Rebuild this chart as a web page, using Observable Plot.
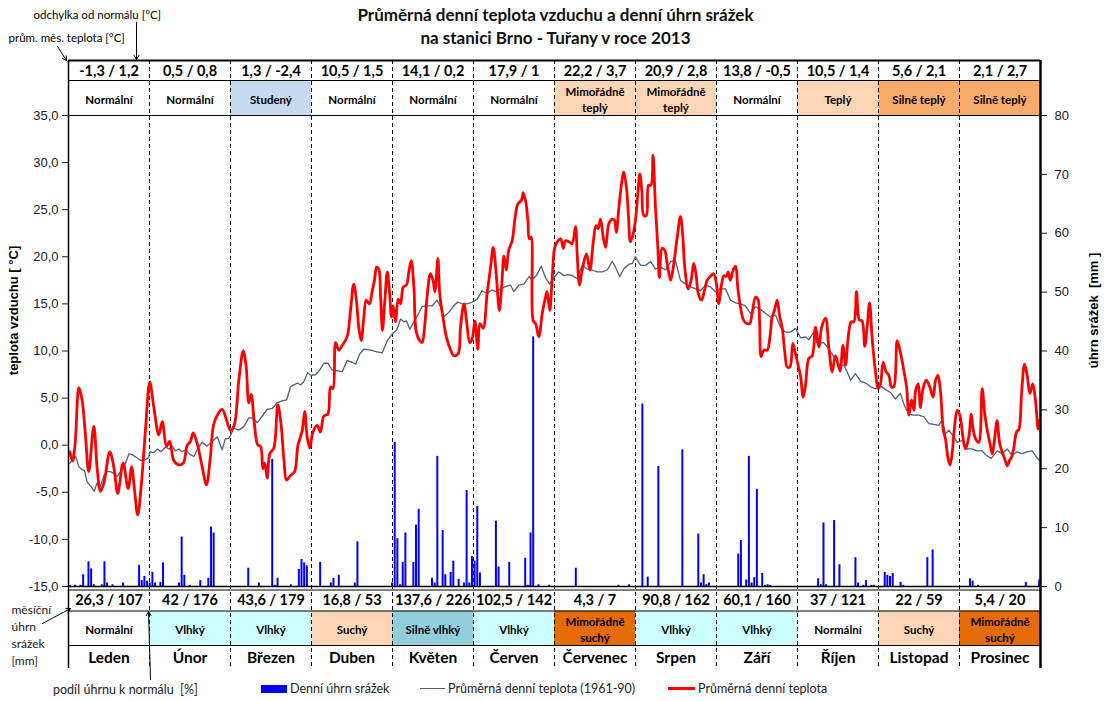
<!DOCTYPE html>
<html>
<head>
<meta charset="utf-8">
<script src="https://cdn.jsdelivr.net/npm/d3@7"></script>
<script src="https://cdn.jsdelivr.net/npm/@observablehq/plot@0.6"></script>
<style>
  body { margin: 0; background: #fff; }
  #wrap { position: relative; width: 1111px; height: 701px; overflow: hidden; }
  #title { position: absolute; left: 0; top: 3px; width: 1111px; text-align: center;
           font-family: Lato, "Open Sans", sans-serif; font-weight: bold; font-size: 17px;
           line-height: 23px; color: #111; pointer-events: none; }
  #legend { position: relative; height: 23px; width: 1111px; font-family: Lato, "Open Sans", sans-serif;
            font-size: 12.5px; color: #222; }
  #legend span, #legend i { position: absolute; }
  #chart svg { display: block; }
</style>
</head>
<body>
<div id="wrap">
  <div id="chart"></div>
  <div id="legend">
    <span style="left:53px;top:4px;">podíl úhrnu k normálu&nbsp; [%]</span>
    <i style="left:261px;top:7px;width:26px;height:8px;background:#0000ff;"></i>
    <span style="left:290px;top:3px;">Denní úhrn srážek</span>
    <i style="left:420px;top:10px;width:25px;height:1.4px;background:#4d5f7a;"></i>
    <span style="left:448px;top:3px;">Průměrná denní teplota (1961-90)</span>
    <i style="left:668px;top:9px;width:27px;height:3px;background:#ff0000;"></i>
    <span style="left:698px;top:3px;">Průměrná denní teplota</span>
  </div>
  <div id="title">Průměrná denní teplota vzduchu a denní úhrn srážek<br>na stanici Brno - Tuřany v roce 2013</div>
</div>
<script>
// ---------------- DATA ----------------
const months = ["Leden","Únor","Březen","Duben","Květen","Červen","Červenec","Srpen","Září","Říjen","Listopad","Prosinec"];
const monthTemp = [-1.3, 0.5, 1.3, 10.5, 14.1, 17.9, 22.2, 20.9, 13.8, 10.5, 5.6, 2.1];
const tempDeviation = [1.2, 0.8, -2.4, 1.5, 0.2, 1, 3.7, 2.8, -0.5, 1.4, 2.1, 2.7];
const tempClass = ["Normální","Normální","Studený","Normální","Normální","Normální","Mimořádně teplý","Mimořádně teplý","Normální","Teplý","Silně teplý","Silně teplý"];
const monthPrecip = [26.3, 42, 43.6, 16.8, 137.6, 102.5, 4.3, 90.8, 60.1, 37, 22, 5.4];
const precipPercent = [107, 176, 179, 53, 226, 142, 7, 162, 160, 121, 59, 20];
const precipClass = ["Normální","Vlhký","Vlhký","Suchý","Silně vlhký","Vlhký","Mimořádně suchý","Vlhký","Vlhký","Normální","Suchý","Mimořádně suchý"];

const leftTicks = [-15, -10, -5, 0, 5, 10, 15, 20, 25, 30, 35];
const rightTicks = [0, 10, 20, 30, 40, 50, 60, 70, 80];

// daily mean temperature 2013 (day of year, °C)
const tempDays = [1,2,3,4.4,5.6,6.9,8.1,10,11.3,12.5,13.8,16,17.5,19,21,22.9,24.2,25.3,26.5,27.9,29.4,31,32.5,34.4,35.7,37.3,38.5,40,41.9,43.6,45.1,46.3,47.3,48.8,50.7,52.3,53.8,55.3,58.2,59.7,61.3,62.6,64.5,66.1,67.2,68.2,69.1,70.3,71.6,72.6,73.5,74.2,75.1,76.1,77.6,79.1,80.4,81.4,82.4,83.9,85.4,86.6,87.6,88.3,89.2,90.1,91.1,92.2,93.9,95.1,96.4,97.9,98.9,99.8,100.8,102,103.3,105.1,106.4,107.6,108.6,109.5,110.4,111.4,112.3,113.5,114.5,115.4,116.2,117,117.7,118.4,119.3,120.2,121,121.8,122.4,123.3,124.3,125.2,126.2,127.4,128.3,129.2,130.2,131.1,132.4,133.3,134.2,135.2,136.4,137.4,138.1,139.2,139.9,141.1,142.4,144,145.2,146.8,147.7,149,150,151.2,152.1,153.1,154.2,155,156.2,157.7,159,160,161.1,162.3,163.3,164,164.9,165.8,167.1,168.1,169.2,170.6,171.2,172.1,173,173.5,174.2,175,175.9,177.1,178.4,179.6,180.2,181.2,182.1,183.1,184.3,185.3,186.3,187.1,188.4,189.6,190.9,191.5,192.4,193.4,195,196.3,197.5,198.6,199.4,200.3,201.3,202.2,203.4,204.7,205.5,206.2,207.2,208.2,209,210,210.8,211.5,212.5,213.4,214.3,215,215.8,216.5,217.5,218.3,219.2,220,220.9,221.8,222.4,223.4,224.4,225.3,226.6,227.6,229.1,230.3,231.2,231.9,233.2,234.3,235.3,236.2,237,238.2,239.3,240.3,241.8,242.8,243.8,244.7,245.7,246.6,247.5,248.2,249,250.1,251,251.8,252.8,254.1,255.3,256.3,257.2,258.5,259.4,260,260.6,261.6,262.9,263.9,264.7,265.6,266.6,267.6,268.5,269.4,270.4,271.4,272.5,273.5,274.4,275.4,276.4,277.3,278.5,279.8,281,282.3,283.3,284.8,286,287.3,288.5,290.2,291.3,292.3,293.3,294.4,295.4,296.4,297.5,298.5,299.5,300.4,301.3,302.3,303.5,304.5,305.4,306.4,307.5,308.6,309.5,310.4,311.7,313,314.2,315.2,316.1,317.1,318,318.6,319.6,320.4,321.4,322.6,323.9,325.2,326.1,327,328,329,329.8,330.7,331.5,332.3,333.2,334.2,335.2,336.3,337.3,338.6,339.5,340.2,341.1,342.3,343.6,344.5,345.5,346.5,347.4,348.2,349.2,350.1,351.1,352,353,353.9,354.6,355.5,356.5,357.4,358.4,359.5,360.5,361.5,362.6,363.6,364.6,365];
const tempValues = [-0.7,-1.7,0.2,6.1,4.8,0.9,-2.8,2.0,-2.6,-4.9,-4.0,-0.7,-2.3,-5.1,-1.9,-4.6,-2.3,-4.8,-7.4,-4.0,1.6,6.7,4.1,1.1,2.5,-0.1,0.4,-1.6,-2.1,-1.9,0.0,0.4,1.3,0.2,-2.3,-4.2,-1.2,2.5,3.8,2.8,1.6,2.0,7.0,10.0,8.4,4.5,5.4,2.3,0.0,-0.1,-2.5,-1.9,-3.5,-0.9,-0.3,4.3,2.0,-1.6,-3.7,-3.2,-2.8,-0.1,0.9,1.6,3.6,0.9,-0.3,1.3,2.1,1.4,3.1,3.3,6.2,6.0,10.9,10.1,10.6,11.5,14.3,17.1,15.4,12.5,11.1,13.6,15.4,15.0,16.3,17.5,18.9,18.7,15.7,12.2,15.4,18.4,16.4,13.6,14.8,13.1,15.5,15.0,16.8,17.0,18.4,19.6,16.8,12.0,11.1,10.9,12.5,15.9,18.2,17.5,16.3,19.8,16.1,13.6,11.5,10.1,9.5,9.7,12.5,15.0,13.1,10.9,11.3,13.2,10.2,12.9,12.4,16.1,18.9,21.0,18.2,14.3,17.5,20.1,18.6,20.7,21.7,23.9,25.6,26.0,26.8,26.0,23.9,21.9,22.1,13.2,12.9,11.5,14.0,15.7,16.3,14.3,17.5,21.0,21.7,21.9,20.9,21.7,21.6,21.4,23.2,20.3,17.0,18.6,20.3,18.6,21.4,23.3,23.0,24.0,22.1,21.0,23.5,24.0,23.9,22.6,25.3,27.8,29.0,27.4,24.2,21.6,22.4,23.9,26.7,28.8,27.0,24.4,24.4,27.6,27.6,30.8,25.3,21.0,17.8,20.9,20.7,19.3,17.5,18.9,22.1,24.3,22.1,18.9,16.6,17.5,19.3,18.0,16.1,15.4,16.4,17.5,18.0,18.2,17.1,15.0,17.0,18.0,17.9,18.4,17.5,18.6,19.0,16.8,14.7,13.2,12.9,12.9,14.0,15.7,15.5,13.2,9.4,10.1,10.1,11.5,13.6,14.3,15.4,13.6,12.5,10.1,8.3,8.3,10.8,9.7,8.6,7.3,5.1,6.5,9.2,9.5,12.5,10.4,12.5,13.5,10.4,7.8,9.5,7.9,10.6,8.5,11.5,13.1,13.1,16.3,13.3,13.2,10.5,12.5,15.1,11.3,7.9,6.0,6.5,8.8,7.8,7.4,6.2,6.2,11.1,9.7,7.9,6.2,3.2,4.8,3.7,5.8,6.5,4.0,6.0,6.9,6.2,5.1,6.9,7.4,5.5,1.6,0.7,-1.3,-2.1,-0.9,1.9,3.7,3.2,1.0,-0.4,0.9,3.3,1.7,0.7,0.3,6.0,3.5,1.6,0.2,-0.9,0.5,2.6,0.3,-0.7,-1.4,-2.2,-1.6,-1.3,-0.2,1.4,1.7,5.5,8.6,7.4,5.5,6.5,4.8,1.7,2.6];

// normal daily mean temperature 1961-90 (day of year, °C)
const normalDays = [1,3.2,4.4,5.6,6.5,7.5,9,10.2,11.2,12.2,13.8,15,16.3,17.5,18.8,20,21.5,23.2,24.4,26,27.5,28.8,30.3,31.2,32.5,34,35.2,37,38.2,39.4,40.6,41.9,43.1,44.5,46.3,47.6,49.1,50.7,52.5,54.4,56.4,58.2,59.4,60.7,62.6,64.5,66.4,68.2,69.5,71.4,73.3,75.1,77,78.8,80.7,82.4,83.9,85.1,86.6,87.6,88.8,90.3,91.6,93.3,94.9,96.4,97.9,99.5,101.4,103.3,105.1,107,108.3,109.9,111.4,113.9,116.4,118.3,120.2,122,123.7,125.2,126.4,127.4,128.7,130.2,132,133.3,135.2,137.1,138.9,140.2,141.4,143.3,145.2,146.7,148.3,150.2,152.1,154,155.8,157.7,159.6,160.8,162.7,165.2,166.5,167.7,169.6,171.5,173.4,174.6,176.2,178,179.6,181.2,182.8,184.6,186.5,188,189.6,191.5,193.4,195.3,197.1,199,200.9,202.8,204.7,205.9,207.5,209,210.9,212.2,213.4,215.3,217.2,219.1,220.9,222.8,224.7,226.6,228.4,230.3,232.2,234.1,236,237.8,239.7,241.6,243.5,245.3,247.2,249.1,251,252.8,254.7,256.6,258.5,260.4,262.2,264.1,266,267.9,269.7,271.6,273.5,275.4,277.3,278.5,280.4,281.6,284.1,286,287.9,289.8,291.6,292.9,294.2,296,297.9,299.8,301.7,303.5,305.4,307.3,309.2,311,312.9,314.4,316.1,317.9,319.8,321.7,323.6,325.4,327.3,328.6,329.8,331.1,332.7,334.2,336.1,338,339.8,341.7,343.6,345.2,347,349.2,351.1,353,354.9,356.7,358.6,360.5,362.4,363.6,365];
const normalValues = [-1.9,-1.2,-2.3,-2.6,-2.7,-3.9,-4.4,-4.9,-4.0,-4.6,-3.2,-2.8,-2.8,-3.0,-3.3,-2.8,-2.2,-0.9,-1.0,-1.3,-1.6,-1.6,-1.4,-0.7,-0.8,-0.4,-0.7,-0.2,-0.4,-0.1,-0.6,-0.4,-0.7,-0.5,-1.0,-1.2,-0.3,0.3,-0.1,0.4,0.9,-0.5,0.7,0.7,1.8,1.6,2.0,2.9,2.9,2.4,3.1,3.8,3.9,4.5,4.7,4.8,6.2,6.4,6.6,6.4,6.7,7.7,7.4,7.5,8.0,8.7,8.7,8.0,7.9,7.8,9.0,8.8,8.6,9.7,10.2,10.1,9.9,9.8,11.1,11.8,12.2,13.4,13.1,13.2,12.3,13.1,14.0,14.7,14.8,14.8,15.4,14.7,13.6,14.1,14.8,15.2,15.0,15.0,15.2,15.5,16.4,16.1,16.5,16.3,16.6,16.9,17.0,16.3,17.0,17.1,17.9,17.6,18.0,19.0,17.8,17.1,17.8,18.4,18.0,18.1,18.0,17.7,19.1,18.7,18.6,18.4,18.4,18.6,19.5,18.9,17.9,18.7,19.2,19.3,20.0,19.1,19.1,19.5,18.7,18.9,18.6,19.5,19.6,17.5,17.1,16.8,16.6,16.4,17.0,16.8,16.3,16.6,16.6,15.4,15.1,15.0,14.8,14.0,14.7,14.4,14.0,13.6,13.8,12.5,12.0,12.0,12.4,11.4,11.5,11.2,12.0,10.8,10.9,10.2,9.4,8.5,8.5,7.8,6.9,7.6,6.8,6.6,6.2,6.0,6.3,5.9,5.6,4.9,5.5,4.2,3.3,3.2,3.2,3.0,2.3,2.2,2.1,2.7,1.2,1.6,1.0,0.3,0.5,-0.4,-0.4,-0.6,-0.6,-1.1,-1.4,-0.6,-0.9,-0.4,-1.1,-0.7,-0.9,-0.7,-0.6,-1.1,-1.6];

// daily precipitation (day of year, mm)
const rainDays = [1,3,5,6,8,9,10,13,14,15,17,21,27,28,29,30,31,32,33,35,36,42,43,44,46,50,53,54,55,68,72,77,78,79,84,87,88,89,90,95,99,100,102,108,109,122,123,124,125,126,127,130,131,132,137,138,139,141,142,144,145,147,149,150,151,152,153,154,155,161,162,166,172,173,174,175,177,181,191,207,211,216,218,222,231,237,238,239,240,241,252,253,255,256,257,258,259,261,262,263,264,282,283,284,285,288,290,296,297,299,300,302,303,307,308,309,310,313,314,323,325,339,340,342,360,365];
const rainMm = [0.2,0.2,0.2,2.0,4.2,3.0,0.3,0.3,4.2,0.6,0.3,0.6,3.6,1.0,1.7,0.9,0.6,2.4,0.6,0.7,4.0,0.6,8.4,1.9,0.2,1.0,1.4,10.1,9.1,3.1,0.6,21.6,0.2,1.4,0.3,2.9,4.6,4.0,3.5,4.1,0.6,1.4,1.9,0.6,7.6,0.6,24.5,8.1,0.3,4.1,9.1,4.1,10.4,13.1,1.4,0.6,22.1,9.5,2.0,2.4,4.3,1.2,0.6,16.3,0.6,5.1,4.3,13.6,2.3,11.1,3.3,4.1,4.8,0.2,9.1,42.4,0.3,0.2,3.1,0.2,0.3,31.0,1.6,20.4,23.2,8.9,0.6,2.0,0.3,0.6,5.5,7.8,1.1,22.1,0.6,1.5,16.5,2.2,0.2,0.3,0.2,1.3,0.3,10.8,0.3,11.2,3.7,4.9,0.6,0.2,1.0,0.2,0.2,2.4,1.9,1.7,2.2,0.7,0.2,4.9,6.2,1.3,0.9,0.2,0.7,1.1];

const classColors = {
  "Normální": "#ffffff", "Studený": "#c5d9f1", "Teplý": "#fcd5b4", "Mimořádně teplý": "#fcd5b4",
  "Silně teplý": "#f9ab6b", "Vlhký": "#ccffff", "Silně vlhký": "#92cddc",
  "Suchý": "#fcd5b4", "Mimořádně suchý": "#e36c09"
};

// ---------------- LAYOUT ----------------
const W = 1111, H = 678;
const L = 68, R = 1040, T = 115, B = 586;
const X = px => (px - L) / (R - L) * 365;          // pixel -> x domain (annotations)
const Y = py => 35 - (py - T) / (B - T) * 50;      // pixel -> y domain (annotations / table rows)
const mmToY = v => -15 + v * 50 / 80;              // secondary axis (precipitation)
const mw = 365 / 12;
const num = v => String(v).replace(".", ",");
const wrapLabel = s => s.replace("Mimořádně ", "Mimořádně\n");

const temp = tempDays.map((d, i) => ({day: Math.min(d, 365), t: tempValues[i]}));
const normal = normalDays.map((d, i) => ({day: d, t: normalValues[i]}));
const rain = rainDays.map((d, i) => ({day: d, mm: rainMm[i]}));
const cols = months.map((m, i) => ({
  i, m, x: (i + 0.5) * mw, x1: i * mw, x2: (i + 1) * mw,
  top: `${num(monthTemp[i])} / ${num(tempDeviation[i])}`,
  tclass: tempClass[i],
  bottom: `${num(monthPrecip[i])} / ${precipPercent[i]}`,
  pclass: precipClass[i]
}));

const tableFont = "Lato, 'Open Sans', sans-serif";
const axisFont = "'Liberation Sans', Arial, sans-serif";

const chart = Plot.plot({
  width: W, height: H,
  marginLeft: L, marginRight: W - R, marginTop: T, marginBottom: H - B,
  x: {domain: [0, 365], axis: null},
  y: {domain: [-15, 35], axis: null},
  style: {fontFamily: axisFont, background: "#fff", overflow: "visible"},
  marks: [
    // table cells
    Plot.rect(cols, {x1: "x1", x2: "x2", y1: Y(80), y2: Y(115), fill: d => classColors[d.tclass]}),
    Plot.rect(cols, {x1: "x1", x2: "x2", y1: Y(610.5), y2: Y(645), fill: d => classColors[d.pclass]}),
    // horizontal table lines
    Plot.ruleY([Y(60)], {x1: 0, x2: 365, stroke: "#000", strokeWidth: 2}),
    Plot.ruleY([Y(80), Y(589.5), Y(610.5), Y(645)], {x1: 0, x2: 365, stroke: "#000", strokeWidth: 1}),
    Plot.ruleY([35], {x1: 0, x2: 365, stroke: "#000", strokeWidth: 1.2}),
    // month separators
    Plot.ruleX(d3.range(1, 12).map(i => i * mw), {y1: Y(60), y2: Y(668), stroke: "#000", strokeWidth: 1, strokeDasharray: "4,3"}),
    // precipitation bars
    Plot.ruleX(rain, {x: d => d.day - 0.5, y1: -15, y2: d => mmToY(d.mm), stroke: "#0000ff", strokeWidth: 2}),
    // normal temperature
    Plot.line(normal, {x: d => d.day - 0.5, y: "t", stroke: "#4d5f7a", strokeWidth: 1.3, curve: "linear"}),
    // actual temperature
    Plot.line(temp, {x: d => d.day - 0.5, y: "t", stroke: "#ff0000", strokeWidth: 2.8, curve: "catmull-rom"}),
    // x axis line
    Plot.ruleY([-15], {x1: 0, x2: 365, stroke: "#000", strokeWidth: 1.3}),
    // frame verticals
    Plot.ruleX([0], {y1: Y(60), y2: Y(668), stroke: "#000", strokeWidth: 1.5}),
    Plot.ruleX([365], {y1: Y(60), y2: Y(668), stroke: "#000", strokeWidth: 2.5}),
    // axes
    Plot.axisY(leftTicks, {anchor: "left", tickSize: 6, tickPadding: 4, fontSize: 13, color: "#1a1a1a",
      tickFormat: v => v.toFixed(1).replace(".", ","), label: null}),
    Plot.axisY(rightTicks.map(mmToY), {anchor: "right", tickSize: 6, tickPadding: 8, fontSize: 13, color: "#1a1a1a",
      tickFormat: v => String(Math.round((v + 15) * 80 / 50)), label: null}),
    Plot.text(["teplota vzduchu [ °C]"], {x: X(13), y: Y(310), rotate: -90, fontWeight: "bold", fontSize: 13, fill: "#000"}),
    Plot.text(["úhrn srážek  [mm ]"], {x: X(1093), y: Y(310), rotate: -90, fontWeight: "bold", fontSize: 13, fill: "#000"}),
    // table texts
    Plot.text(cols, {x: "x", y: Y(70.5), text: "top", fontFamily: tableFont, fontWeight: "bold", fontSize: 14.5, fill: "#000"}),
    Plot.text(cols, {x: "x", y: Y(98), text: d => wrapLabel(d.tclass), fontFamily: tableFont, fontWeight: "bold", fontSize: 11.5, lineHeight: 1.45, fill: "#000"}),
    Plot.text(cols, {x: "x", y: Y(600), text: "bottom", fontFamily: tableFont, fontWeight: "bold", fontSize: 14.5, fill: "#000"}),
    Plot.text(cols, {x: "x", y: Y(628), text: d => wrapLabel(d.pclass), fontFamily: tableFont, fontWeight: "bold", fontSize: 11.5, lineHeight: 1.45, fill: "#000"}),
    Plot.text(cols, {x: "x", y: Y(658), text: "m", fontFamily: tableFont, fontWeight: "bold", fontSize: 15.5, fill: "#000"}),
    // annotations
    Plot.text(["odchylka od normálu [°C]"], {x: X(33), y: Y(15), textAnchor: "start", fontFamily: tableFont, fontSize: 11.5, fill: "#000"}),
    Plot.text(["prům. měs. teplota [°C]"], {x: X(8), y: Y(38), textAnchor: "start", fontFamily: tableFont, fontSize: 11.5, fill: "#000"}),
    Plot.text(["měsíční\núhrn\nsrážek\n[mm]"], {x: X(11), y: Y(602), textAnchor: "start", lineAnchor: "top", lineHeight: 1.4, fontFamily: tableFont, fontSize: 12, fill: "#222"}),
    Plot.arrow([{x1: X(136), y1: Y(22), x2: X(136), y2: Y(59)}], {x1: "x1", y1: "y1", x2: "x2", y2: "y2", stroke: "#000", strokeWidth: 1, headLength: 7}),
    Plot.arrow([{x1: X(57), y1: Y(46), x2: X(66), y2: Y(60)}], {x1: "x1", y1: "y1", x2: "x2", y2: "y2", stroke: "#000", strokeWidth: 1, headLength: 7}),
    Plot.arrow([{x1: X(42), y1: Y(623), x2: X(70), y2: Y(608)}], {x1: "x1", y1: "y1", x2: "x2", y2: "y2", stroke: "#000", strokeWidth: 1, headLength: 7}),
    Plot.arrow([{x1: X(150), y1: Y(679), x2: X(148), y2: Y(611)}], {x1: "x1", y1: "y1", x2: "x2", y2: "y2", stroke: "#000", strokeWidth: 1, headLength: 7})
  ]
});
document.getElementById("chart").appendChild(chart);
</script>
</body>
</html>
